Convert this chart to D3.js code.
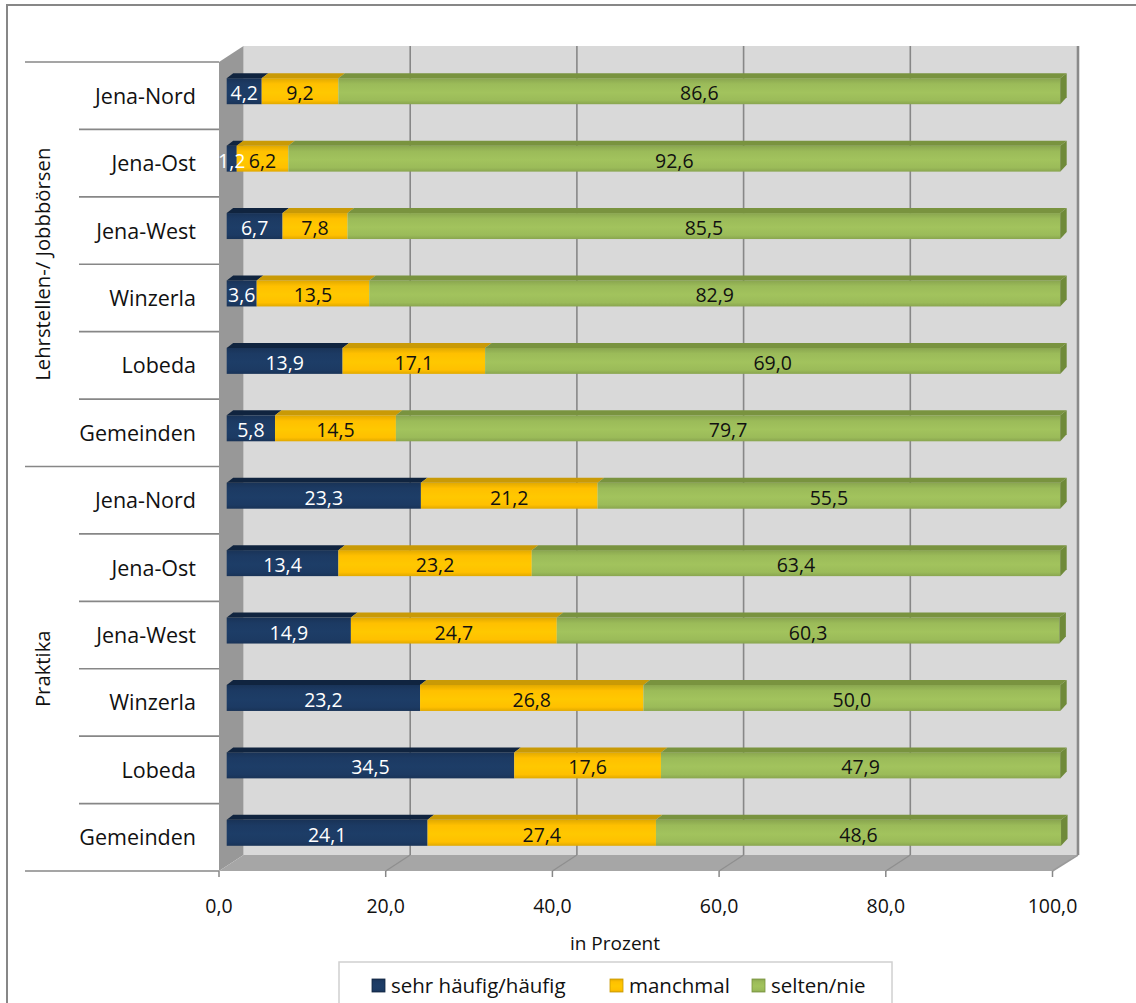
<!DOCTYPE html>
<html>
<head>
<meta charset="utf-8">
<script src="https://cdn.jsdelivr.net/npm/d3@7"></script>
<style>
html,body{margin:0;padding:0;background:#fff;}
svg{display:block;}
text{font-family:"Open Sans","Noto Sans",sans-serif;}
</style>
</head>
<body>
<script>
// ---- data ----
const categories = ["Jena-Nord","Jena-Ost","Jena-West","Winzerla","Lobeda","Gemeinden",
                    "Jena-Nord","Jena-Ost","Jena-West","Winzerla","Lobeda","Gemeinden"];
const groups = ["Lehrstellen-/ Jobbbörsen","Praktika"];
const groupSize = [6,6];
const seriesNames = ["sehr häufig/häufig","manchmal","selten/nie"];
const sehrHaeufig = [4.2,1.2,6.7,3.6,13.9,5.8,23.3,13.4,14.9,23.2,34.5,24.1];
const manchmal    = [9.2,6.2,7.8,13.5,17.1,14.5,21.2,23.2,24.7,26.8,17.6,27.4];
const seltenNie   = [86.6,92.6,85.5,82.9,69.0,79.7,55.5,63.4,60.3,50.0,47.9,48.6];
const xTicks = [0,20,40,60,80,100];
const xTitle = "in Prozent";

const W = 1136, H = 1003;
const svg = d3.select("body").append("svg").attr("width",W).attr("height",H);

// colours
const front = ["#1c3a63","#ffc000","#9bbb59"];
const topC  = ["#10243f","#c99a06","#79933f"];
const endC  = ["#10243f","#c99a06","#6f8a39"];

const defs = svg.append("defs");
front.forEach((c,i)=>{
  const g = defs.append("linearGradient").attr("id","fg"+i).attr("x1",0).attr("y1",0).attr("x2",0).attr("y2",1);
  const dk = d3.color(c).darker(0.35).formatHex();
  const lt = d3.color(c).brighter(0.12).formatHex();
  g.append("stop").attr("offset","0%").attr("stop-color",dk);
  g.append("stop").attr("offset","22%").attr("stop-color",c);
  g.append("stop").attr("offset","55%").attr("stop-color",lt);
  g.append("stop").attr("offset","85%").attr("stop-color",c);
  g.append("stop").attr("offset","100%").attr("stop-color",dk);
});

// outer frame
svg.append("rect").attr("x",7).attr("y",5).attr("width",1150).attr("height",1020)
  .attr("fill","none").attr("stroke","#878787").attr("stroke-width",2);

// geometry
const yFrontTop = 62, yFrontBot = 871;
const dX = 24.5, dY = -16;
const xFront = d3.scaleLinear().domain([0,100]).range([219,1052.5]);
const xBack  = d3.scaleLinear().domain([0,100]).range([219+dX,1052.5+dX]);
const xBar   = d3.scaleLinear().domain([0,100]).range([226.7,1060.2]);
const yBand  = d3.scaleBand().domain(d3.range(categories.length)).range([yFrontTop,yFrontBot]);

// back wall
svg.append("rect").attr("x",xBack(0)).attr("y",yFrontTop+dY)
  .attr("width",xBack(100)-xBack(0)).attr("height",yFrontBot-yFrontTop)
  .attr("fill","#d9d9d9");
// left wall
svg.append("polygon").attr("points",[[xFront(0),yFrontTop],[xBack(0),yFrontTop+dY],[xBack(0),yFrontBot+dY],[xFront(0),yFrontBot]].join(" "))
  .attr("fill","#989898");
// floor
svg.append("polygon").attr("points",[[xFront(0),yFrontBot],[xBack(0),yFrontBot+dY],[xBack(100),yFrontBot+dY],[xFront(100),yFrontBot]].join(" "))
  .attr("fill","#a6a6a6");
// gridlines back wall + floor
xTicks.filter(v=>v>0 && v<100).forEach(v=>{
  svg.append("line").attr("x1",xBack(v)).attr("x2",xBack(v)).attr("y1",yFrontTop+dY).attr("y2",yFrontBot+dY)
    .attr("stroke","#878787").attr("stroke-width",1.6);
  svg.append("line").attr("x1",xBack(v)).attr("x2",xFront(v)).attr("y1",yFrontBot+dY).attr("y2",yFrontBot)
    .attr("stroke","#8f8f8f").attr("stroke-width",1.3);
});
// right edge of back wall
svg.append("line").attr("x1",xBack(100)+1).attr("x2",xBack(100)+1).attr("y1",yFrontTop+dY).attr("y2",yFrontBot+dY)
  .attr("stroke","#8a8a8a").attr("stroke-width",2.6);
svg.append("line").attr("x1",xBack(100)+1).attr("x2",xFront(100)).attr("y1",yFrontBot+dY).attr("y2",yFrontBot)
  .attr("stroke","#9a9a9a").attr("stroke-width",1.5);

// bars
const series = [sehrHaeufig, manchmal, seltenNie];
const bdx = 6.5, bdy = -5, faceH = 26, shift = -4.5;
const fmt = v => d3.format(".1f")(v).replace(".",",");
const barsG = svg.append("g");
categories.forEach((c,i)=>{
  const yc = yBand(i) + yBand.bandwidth()/2 + shift;
  const y0 = yc - faceH/2, y1 = yc + faceH/2;
  let cum = 0;
  series.forEach((s,k)=>{
    const a = xBar(cum), b = xBar(cum + s[i]);
    barsG.append("rect").attr("x",a).attr("y",y0).attr("width",Math.max(0,b-a)).attr("height",faceH)
      .attr("fill","url(#fg"+k+")");
    barsG.append("polygon").attr("points",[[a,y0],[b,y0],[b+bdx,y0+bdy],[a+bdx,y0+bdy]].join(" "))
      .attr("fill",topC[k]);
    if(k===series.length-1){
      barsG.append("polygon").attr("points",[[b,y0],[b+bdx,y0+bdy],[b+bdx,y1+bdy-2],[b,y1]].join(" "))
        .attr("fill",endC[k]);
    }
    cum += s[i];
  });
});
// labels on bars
categories.forEach((c,i)=>{
  const yc = yBand(i) + yBand.bandwidth()/2 + shift;
  let cum = 0;
  series.forEach((s,k)=>{
    const a = xBar(cum), b = xBar(cum + s[i]);
    barsG.append("text").attr("x",(a+b)/2).attr("y",yc+9).attr("text-anchor","middle")
      .attr("font-size",19.5).attr("fill",k===0?"#ffffff":"#111111").text(fmt(s[i]));
    cum += s[i];
  });
});

// category axis
const axG = svg.append("g");
axG.append("line").attr("x1",25).attr("x2",xFront(0)).attr("y1",yFrontBot).attr("y2",yFrontBot)
  .attr("stroke","#878787").attr("stroke-width",1.6);
let start = 0;
groups.forEach((g,gi)=>{
  const n = groupSize[gi];
  const yTop = yBand(start);
  axG.append("line").attr("x1",25).attr("x2",xFront(0)).attr("y1",yTop).attr("y2",yTop)
    .attr("stroke","#878787").attr("stroke-width",1.6);
  for(let j=1;j<n;j++){
    const yy = yBand(start+j);
    axG.append("line").attr("x1",79).attr("x2",xFront(0)).attr("y1",yy).attr("y2",yy)
      .attr("stroke","#878787").attr("stroke-width",1.6);
  }
  const yMid = (yBand(start) + yBand(start+n-1) + yBand.bandwidth())/2;
  axG.append("text").attr("transform",`translate(50,${yMid}) rotate(-90)`).attr("text-anchor","middle")
    .attr("font-size",20.3).attr("fill","#111").text(g);
  start += n;
});
categories.forEach((c,i)=>{
  axG.append("text").attr("x",196).attr("y",yBand(i)+yBand.bandwidth()/2+8).attr("text-anchor","end")
    .attr("font-size",21.5).attr("fill","#111").text(c);
});

// x axis ticks and labels
xTicks.forEach(v=>{
  axG.append("line").attr("x1",xFront(v)).attr("x2",xFront(v)).attr("y1",yFrontBot).attr("y2",yFrontBot+6)
    .attr("stroke","#878787").attr("stroke-width",1.5);
  axG.append("text").attr("x",xFront(v)).attr("y",913).attr("text-anchor","middle")
    .attr("font-size",19.5).attr("fill","#111").text(fmt(v));
});
axG.append("text").attr("x",615).attr("y",950).attr("text-anchor","middle")
  .attr("font-size",19).attr("fill","#111").text(xTitle);

// legend
const lg = svg.append("g");
lg.append("rect").attr("x",339).attr("y",962).attr("width",553).attr("height",60)
  .attr("fill","#fff").attr("stroke","#d0d0d0").attr("stroke-width",1.5);
const legX = [372, 610, 752];
seriesNames.forEach((n,k)=>{
  lg.append("rect").attr("x",legX[k]).attr("y",979).attr("width",13).attr("height",13)
    .attr("fill","url(#fg"+k+")").attr("stroke",topC[k]).attr("stroke-width",0.8);
  lg.append("text").attr("x",legX[k]+19).attr("y",993).attr("font-size",20.5).attr("fill","#111").text(n);
});
</script>
</body>
</html>
